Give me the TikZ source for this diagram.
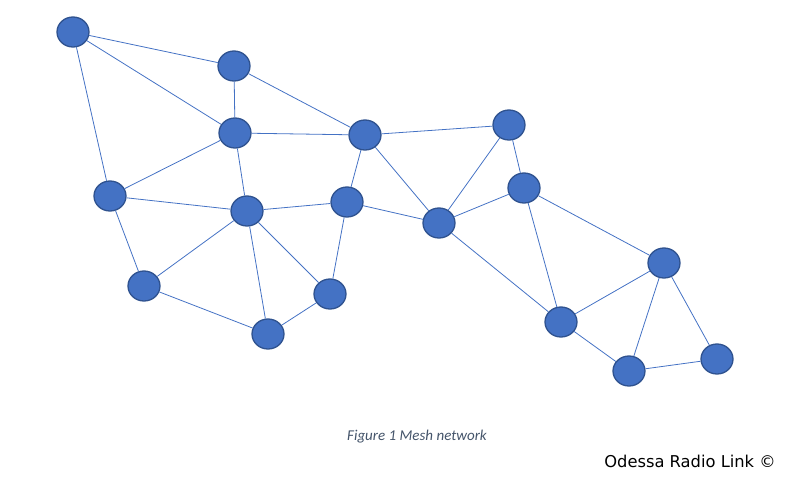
\documentclass[tikz,border=0pt]{standalone}
\usepackage{fontspec}
\newfontfamily\capfont{Carlito}
\newfontfamily\markfont{DejaVu Sans}
\usetikzlibrary{shapes.geometric}
\definecolor{nodefill}{HTML}{4472C4}
\definecolor{nodeedge}{HTML}{2F528F}
\definecolor{captext}{HTML}{44546A}
\tikzset{
  meshnode/.style={ellipse, fill=nodefill, draw=nodeedge, line width=1.3pt, minimum width=32pt, minimum height=30pt, inner sep=0pt},
  link/.style={draw=nodefill, line width=0.8pt}
}
\begin{document}
\begin{tikzpicture}[x=1pt,y=-1pt]
\useasboundingbox (0,0) rectangle (785,480);
\node[meshnode] (n1) at (73,32) {};
\node[meshnode] (n2) at (234,66) {};
\node[meshnode] (n3) at (235,133) {};
\node[meshnode] (n4) at (365,135) {};
\node[meshnode] (n5) at (509,125) {};
\node[meshnode] (n6) at (110,196) {};
\node[meshnode] (n7) at (247,211) {};
\node[meshnode] (n8) at (347,202) {};
\node[meshnode] (n9) at (439,223) {};
\node[meshnode] (n10) at (524,188) {};
\node[meshnode] (n11) at (144,286) {};
\node[meshnode] (n12) at (330,294) {};
\node[meshnode] (n13) at (268,334) {};
\node[meshnode] (n14) at (664,263) {};
\node[meshnode] (n15) at (561,322) {};
\node[meshnode] (n16) at (629,371) {};
\node[meshnode] (n17) at (717,359) {};
\foreach \a/\b in {n1/n2,n1/n3,n1/n6,n2/n3,n2/n4,n3/n4,n3/n6,n3/n7,n4/n5,n4/n8,n4/n9,n5/n9,n5/n10,n6/n7,n6/n11,n7/n8,n7/n11,n7/n13,n7/n12,n8/n9,n8/n12,n9/n10,n9/n15,n10/n14,n10/n15,n11/n13,n12/n13,n14/n15,n14/n16,n14/n17,n15/n16,n16/n17}
  \draw[link] (\a) -- (\b);
\node[font=\capfont\itshape\fontsize{15}{18}\selectfont, text=captext] (cap) at (417,437) {Figure 1 Mesh network};
\node[font=\markfont\fontsize{16.3}{19}\selectfont, text=black] (mark) at (690,461) {Odessa Radio Link ©};
\end{tikzpicture}
\end{document}
